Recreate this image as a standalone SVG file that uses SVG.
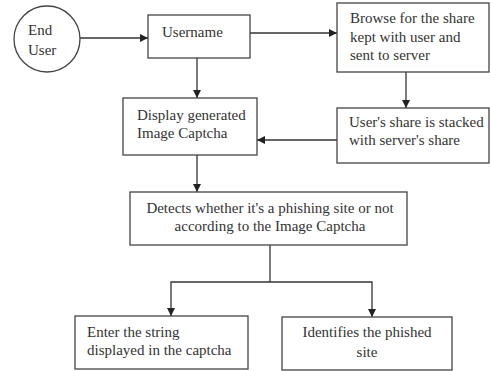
<svg xmlns="http://www.w3.org/2000/svg" width="491" height="371" viewBox="0 0 491 371">
<style>
.box{fill:#fff;stroke:#444;stroke-width:1.3}
.t{font-family:"Liberation Serif","Times New Roman",serif;font-size:15px;fill:#333}
.c{text-anchor:middle}
.ln{fill:none;stroke:#333;stroke-width:1.3}
</style>
<defs>
<marker id="ah" viewBox="0 0 10 10" refX="10" refY="5" markerWidth="8" markerHeight="8" markerUnits="userSpaceOnUse" orient="auto">
<path d="M0,0 L10,5 L0,10 z" fill="#222"/>
</marker>
</defs>
<rect width="491" height="371" fill="#fff"/>
<g id="connectors">
<line class="ln" x1="80" y1="38" x2="148" y2="38" marker-end="url(#ah)"/>
<line class="ln" x1="250" y1="33" x2="337" y2="33" marker-end="url(#ah)"/>
<line class="ln" x1="197" y1="58" x2="197" y2="98" marker-end="url(#ah)"/>
<line class="ln" x1="406" y1="72" x2="406" y2="108" marker-end="url(#ah)"/>
<line class="ln" x1="337" y1="140" x2="257" y2="140" marker-end="url(#ah)"/>
<line class="ln" x1="197" y1="155" x2="197" y2="192" marker-end="url(#ah)"/>
<polyline class="ln" points="270,245 270,282"/>
<polyline class="ln" points="171,290 171,282 372,282 372,290"/>
<line class="ln" x1="171" y1="290" x2="171" y2="316" marker-end="url(#ah)"/>
<line class="ln" x1="372" y1="290" x2="372" y2="317" marker-end="url(#ah)"/>
</g>
<g id="end-user">
<ellipse class="box" cx="47" cy="39" rx="33" ry="33"/>
<text class="t" x="28" y="35">End</text>
<text class="t" x="28" y="55">User</text>
</g>
<g id="username">
<rect class="box" x="148" y="15" width="102" height="43"/>
<text class="t" x="162" y="37">Username</text>
</g>
<g id="browse">
<rect class="box" x="337" y="3" width="152" height="69"/>
<text class="t" x="350" y="23">Browse for the share</text>
<text class="t" x="350" y="42">kept with user and</text>
<text class="t" x="350" y="60">sent to server</text>
</g>
<g id="display">
<rect class="box" x="123" y="98" width="134" height="57"/>
<text class="t" x="137" y="120">Display generated</text>
<text class="t" x="137" y="138">Image Captcha</text>
</g>
<g id="stacked">
<rect class="box" x="337" y="108" width="152" height="55"/>
<text class="t" x="349" y="127">User's share is stacked</text>
<text class="t" x="349" y="145">with server's share</text>
</g>
<g id="detects">
<rect class="box" x="130" y="192" width="277" height="53"/>
<text class="t c" x="270" y="213">Detects whether it's a phishing site or not</text>
<text class="t c" x="270" y="231">according to the Image Captcha</text>
</g>
<g id="enter">
<rect class="box" x="75" y="316" width="173" height="53"/>
<text class="t" x="87" y="337">Enter the string</text>
<text class="t" x="87" y="355">displayed in the captcha</text>
</g>
<g id="identifies">
<rect class="box" x="282" y="317" width="170" height="53"/>
<text class="t c" x="367" y="337">Identifies the phished</text>
<text class="t c" x="367" y="357">site</text>
</g>
</svg>
